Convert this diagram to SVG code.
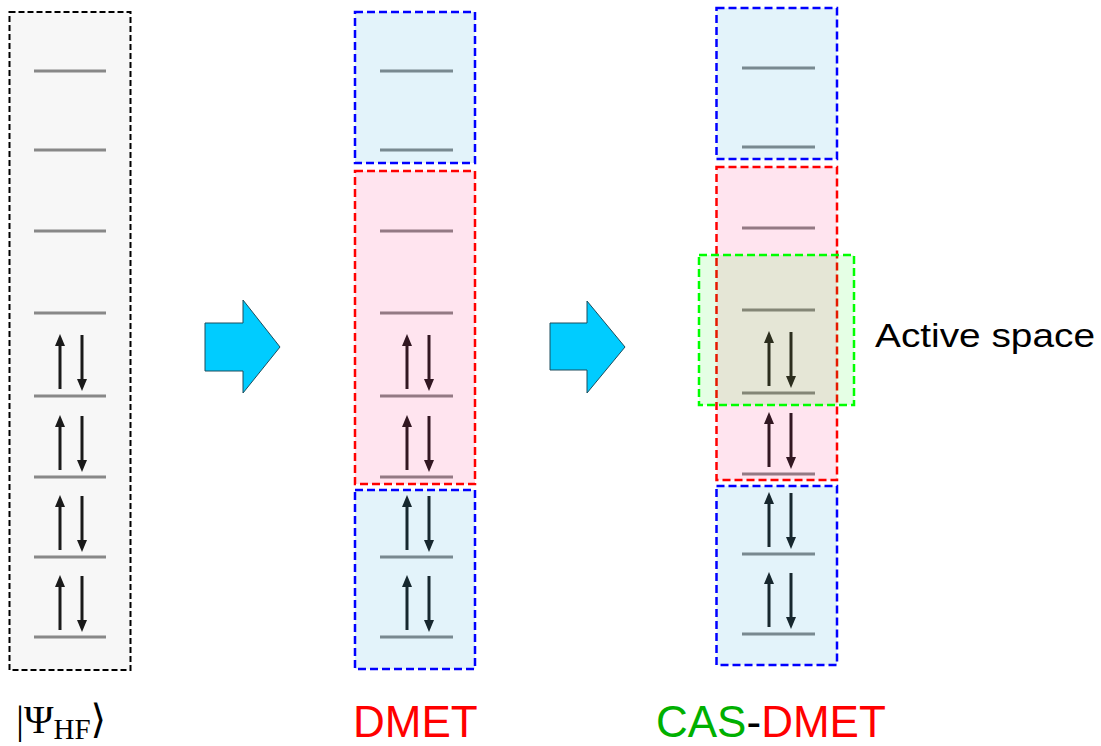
<svg xmlns="http://www.w3.org/2000/svg" width="1101" height="746" viewBox="0 0 1101 746">
  <defs>
    <style>
      .lvl { stroke: #888888; stroke-width: 3; }
      .spin { stroke: #1a1a1a; stroke-width: 3; fill: none; }
      .head { fill: #1a1a1a; }
      .hf-box { fill: #f7f7f7; stroke: #000000; stroke-width: 2; stroke-dasharray: 6 3; }
      .env { fill: rgb(0,146,210); fill-opacity: 0.11; stroke: #0000ff; stroke-width: 2.5; stroke-dasharray: 8 4; }
      .frag { fill: rgb(255,0,100); fill-opacity: 0.106; stroke: #ff0000; stroke-width: 2.5; stroke-dasharray: 8 4; }
      .act { fill: rgb(0,255,0); fill-opacity: 0.1; stroke: #00ff00; stroke-width: 2.5; stroke-dasharray: 8 4; }
      .flow { fill: #00ccff; stroke: #1c4d5c; stroke-width: 1; }
      .lbl { font-family: "Liberation Sans", Arial, sans-serif; font-size: 44px; }
    </style>
    <!-- one doubly-occupied orbital: up spin left, down spin right; origin at level centre-left -->
    <g id="pair">
      <line class="spin" x1="26" y1="-7" x2="26" y2="-52"/>
      <polygon class="head" points="26,-62 21,-50 31,-50"/>
      <line class="spin" x1="48" y1="-61" x2="48" y2="-16"/>
      <polygon class="head" points="48,-5 43,-17 53,-17"/>
    </g>
  </defs>

  <!-- Hartree-Fock reference -->
  <g id="hf">
    <rect class="hf-box" x="9.5" y="12" width="121" height="658"/>
    <g>
      <line class="lvl" x1="34" y1="71" x2="106" y2="71"/>
      <line class="lvl" x1="34" y1="150" x2="106" y2="150"/>
      <line class="lvl" x1="34" y1="231" x2="106" y2="231"/>
      <line class="lvl" x1="34" y1="313" x2="106" y2="313"/>
      <line class="lvl" x1="34" y1="396" x2="106" y2="396"/>
      <line class="lvl" x1="34" y1="477" x2="106" y2="477"/>
      <line class="lvl" x1="34" y1="557" x2="106" y2="557"/>
      <line class="lvl" x1="34" y1="637" x2="106" y2="637"/>
    </g>
    <use href="#pair" x="34" y="396"/>
    <use href="#pair" x="34" y="477"/>
    <use href="#pair" x="34" y="557"/>
    <use href="#pair" x="34" y="637"/>
  </g>

  <!-- DMET partition -->
  <g id="dmet">
    <g>
      <line class="lvl" x1="380" y1="71" x2="453" y2="71"/>
      <line class="lvl" x1="380" y1="150" x2="453" y2="150"/>
      <line class="lvl" x1="380" y1="231" x2="453" y2="231"/>
      <line class="lvl" x1="380" y1="313" x2="453" y2="313"/>
      <line class="lvl" x1="380" y1="396" x2="453" y2="396"/>
      <line class="lvl" x1="380" y1="477" x2="453" y2="477"/>
      <line class="lvl" x1="380" y1="557" x2="453" y2="557"/>
      <line class="lvl" x1="380" y1="637" x2="453" y2="637"/>
    </g>
    <use href="#pair" x="381" y="396"/>
    <use href="#pair" x="381" y="477"/>
    <use href="#pair" x="381" y="557"/>
    <use href="#pair" x="381" y="637"/>
    <rect id="dmet-env-top" class="env" x="355" y="12" width="120" height="151"/>
    <rect id="dmet-frag" class="frag" x="355" y="171" width="120" height="313"/>
    <rect id="dmet-env-bottom" class="env" x="355" y="490" width="120" height="179"/>
  </g>

  <!-- CAS-DMET partition with active space -->
  <g id="cas-dmet">
    <g>
      <line class="lvl" x1="742" y1="68" x2="815" y2="68"/>
      <line class="lvl" x1="742" y1="147" x2="815" y2="147"/>
      <line class="lvl" x1="742" y1="228" x2="815" y2="228"/>
      <line class="lvl" x1="742" y1="310" x2="815" y2="310"/>
      <line class="lvl" x1="742" y1="393" x2="815" y2="393"/>
      <line class="lvl" x1="742" y1="474" x2="815" y2="474"/>
      <line class="lvl" x1="742" y1="554" x2="815" y2="554"/>
      <line class="lvl" x1="742" y1="634" x2="815" y2="634"/>
    </g>
    <use href="#pair" x="743" y="393"/>
    <use href="#pair" x="743" y="474"/>
    <use href="#pair" x="743" y="554"/>
    <use href="#pair" x="743" y="634"/>
    <rect id="cas-env-top" class="env" x="716.5" y="8" width="120.5" height="151"/>
    <rect id="cas-frag" class="frag" x="716.5" y="167" width="120.5" height="313"/>
    <rect id="cas-env-bottom" class="env" x="716.5" y="486" width="120.5" height="179"/>
    <rect id="cas-active" class="act" x="699" y="255" width="155" height="150"/>
  </g>

  <g id="active-label">
    <text x="875" y="347" font-family="Liberation Sans, Arial, sans-serif" font-size="34" textLength="220" lengthAdjust="spacingAndGlyphs">Active space</text>
  </g>

  <!-- transformation arrows -->
  <g id="connectors">
    <polygon class="flow" points="205,323 243,323 243,300 280,347 243,393 243,371 205,371"/>
    <polygon class="flow" points="550,323 587,323 587,301 625,347 587,393 587,370 550,370"/>
  </g>

  <!-- method labels -->
  <g id="labels">
    <text x="16" y="733" font-family="Liberation Serif, DejaVu Serif, serif" font-size="40" fill="#000000">|Ψ<tspan font-size="29" dy="6">HF</tspan><tspan dy="-6">⟩</tspan></text>
    <text class="lbl" x="353" y="737" fill="#ff0000">DMET</text>
    <text class="lbl" x="656" y="737"><tspan fill="#00b000">CAS</tspan><tspan fill="#000000">-</tspan><tspan fill="#ff0000">DMET</tspan></text>
  </g>
</svg>
